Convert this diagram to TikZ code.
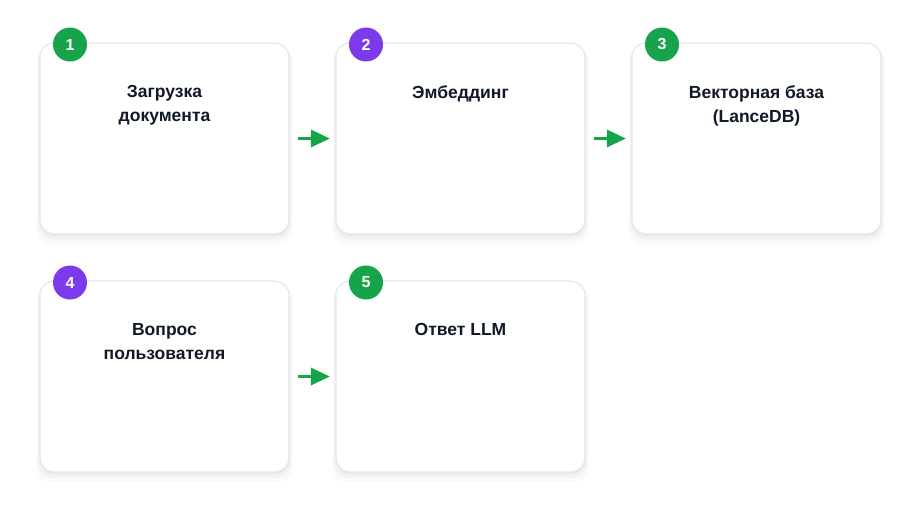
\documentclass[tikz,border=0pt]{standalone}
\usepackage{fontspec}
\setmainfont{Liberation Sans}
\usetikzlibrary{arrows.meta,positioning,shadows}
\definecolor{stepgreen}{HTML}{16A34A}
\definecolor{steppurple}{HTML}{7C3AED}
\definecolor{cardline}{HTML}{E5E7EB}
\definecolor{titletext}{HTML}{111827}

\begin{document}
\begin{tikzpicture}[x=1pt,y=-1pt,>={Triangle[length=19pt,width=17pt]},every node/.style={font=\fontsize{17.5}{24}\selectfont\bfseries},card/.style={draw=cardline,line width=1.2pt,fill=white,rounded corners=14pt,minimum width=249pt,minimum height=191pt,inner sep=0pt,general shadow={fill=black,opacity=0.02,shadow yshift=-7pt,shadow scale=1.03},general shadow={fill=black,opacity=0.03,shadow yshift=-4pt,shadow scale=1.015},general shadow={fill=black,opacity=0.04,shadow yshift=-2pt}},badge/.style={circle,minimum size=34pt,inner sep=0pt,text=white,font=\fontsize{16}{18}\selectfont\bfseries},title/.style={align=center,inner sep=0pt,text=titletext},flow/.style={->,draw=stepgreen,line width=3pt,shorten <=8.5pt,shorten >=5.5pt},]
\useasboundingbox (0,0) rectangle (922,516);
% first row
\node[card] (load) at (164.5,138.5) {};
\node[card] (embed) at (460.5,138.5) {};
\node[card] (store) at (756.5,138.5) {};
% second row
\node[card] (ask) at (164.5,376.5) {};
\node[card] (answer) at (460.5,376.5) {};
\node[title, below=43pt of load.north] (loadtxt) {Загрузка\\документа};
\node[title, below=43pt of embed.north] (embedtxt) {Эмбеддинг};
\node[title, below=43pt of store.north] (storetxt) {Векторная база\\(LanceDB)};
\node[title, below=43pt of ask.north] (asktxt) {Вопрос\\пользователя};
\node[title, below=43pt of answer.north] (answertxt) {Ответ LLM};
\node[badge,fill=stepgreen] (b1) at (70,44.5) {1};
\node[badge,fill=steppurple] (b2) at (366,44.5) {2};
\node[badge,fill=stepgreen] (b3) at (662,44.5) {3};
\node[badge,fill=steppurple] (b4) at (70,282.5) {4};
\node[badge,fill=stepgreen] (b5) at (366,282.5) {5};
\draw[flow] (load) -- (embed);
\draw[flow] (embed) -- (store);
\draw[flow] (ask) -- (answer);
\end{tikzpicture}
\end{document}
